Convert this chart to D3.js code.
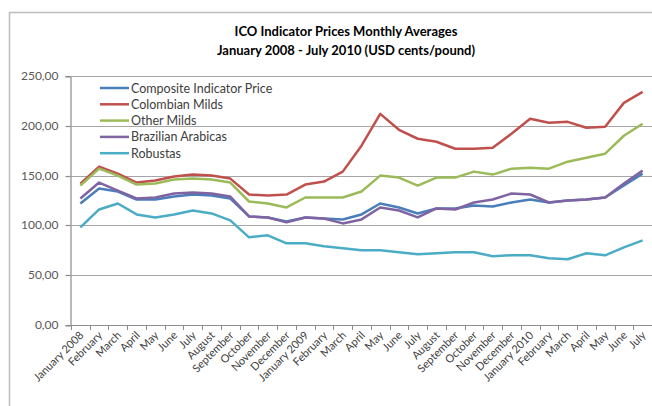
<!DOCTYPE html>
<html>
<head>
<meta charset="utf-8">
<script src="https://cdn.jsdelivr.net/npm/d3@7"></script>
<style>
  body { margin: 0; background: #fff; }
  svg { display: block; font-family: Lato, "Open Sans", sans-serif; }
</style>
</head>
<body>
<div id="chart"></div>
<script>
// Month labels, January 2008 - July 2010
const months = [
    "January 2008", "February", "March", "April", "May", "June", "July", "August",
    "September", "October", "November", "December",
    "January 2009", "February", "March", "April", "May", "June", "July", "August",
    "September", "October", "November", "December",
    "January 2010", "February", "March", "April", "May", "June", "July"
];

// Series values (USD cents/pound)
const composite = [122, 137, 134, 126, 126, 129, 131, 130, 127, 109, 108, 104, 108, 107,
    106, 111, 122, 118, 112, 117, 117, 120, 119, 123, 126, 123, 125, 126, 128, 140, 152];
const colombian = [142, 159, 152, 143, 145, 149, 151, 150, 147, 131, 130, 131, 141, 144,
    154, 180, 212, 196, 187, 184, 177, 177, 178, 192, 207, 203, 204, 198, 199, 223, 234];
const otherMilds = [140, 157, 150, 141, 142, 146, 147, 146, 143, 124, 122, 118, 128, 128,
    128, 134, 150, 148, 140, 148, 148, 154, 151, 157, 158, 157, 164, 168, 172, 190, 202];
const brazilian = [127, 143, 135, 127, 128, 132, 133, 132, 129, 109, 108, 103, 108, 107,
    102, 106, 118, 115, 108, 117, 116, 123, 126, 132, 131, 123, 125, 126, 128, 142, 155];
const robustas = [98, 116, 122, 111, 108, 111, 115, 112, 105, 88, 90, 82, 82, 79,
    77, 75, 75, 73, 71, 72, 73, 73, 69, 70, 70, 67, 66, 72, 70, 78, 85];

const yTicks = [0, 50, 100, 150, 200, 250];

const series = [
    { name: "Composite Indicator Price", values: composite, color: "#4a7ebb" },
    { name: "Colombian Milds", values: colombian, color: "#c0504d" },
    { name: "Other Milds", values: otherMilds, color: "#9bbb59" },
    { name: "Brazilian Arabicas", values: brazilian, color: "#8064a2" },
    { name: "Robustas", values: robustas, color: "#4bacc6" }
];

const width = 652;
const height = 406;

const svg = d3.select("#chart").append("svg")
    .attr("width", width)
    .attr("height", height);

// Outer chart frame (runs off the right and bottom edges)
svg.append("rect")
    .attr("x", 9.5).attr("y", 12.5)
    .attr("width", 700).attr("height", 450)
    .attr("fill", "none")
    .attr("stroke", "#bdbdbd")
    .attr("stroke-width", 1.5);

// Title
const title = svg.append("text")
    .attr("text-anchor", "middle")
    .style("font-size", "13px")
    .style("font-weight", "bold")
    .attr("fill", "#000");
title.append("tspan").attr("x", 346).attr("y", 36).text("ICO Indicator Prices Monthly Averages");
title.append("tspan").attr("x", 346).attr("y", 55).text("January 2008 - July 2010 (USD cents/pound)");

// Scales
const xScale = d3.scaleBand()
    .domain(d3.range(months.length))
    .range([71, 652])
    .padding(0);

const yScale = d3.scaleLinear()
    .domain([0, 250])
    .range([325, 76]);

// Gridlines
svg.append("g")
    .selectAll("line")
    .data(yTicks.filter(d => d > 0))
    .join("line")
    .attr("x1", 71).attr("x2", 652)
    .attr("y1", d => Math.round(yScale(d)) + 0.5)
    .attr("y2", d => Math.round(yScale(d)) + 0.5)
    .attr("stroke", "#a6a6a6")
    .attr("stroke-width", 1.2);

// Y axis
const yAxis = svg.append("g")
    .attr("transform", "translate(70.5, 0.5)")
    .call(d3.axisLeft(yScale)
        .tickValues(yTicks)
        .tickSize(5)
        .tickPadding(7)
        .tickFormat(d => d3.format(".2f")(d).replace(".", ",")));
yAxis.selectAll("path, line").attr("stroke", "#8c8c8c").attr("stroke-width", 1.2);
yAxis.selectAll("text").attr("fill", "#595959").style("font-size", "12px").style("font-family", "Lato, sans-serif");
yAxis.selectAll("line").attr("transform", null);
yAxis.selectAll(".tick").attr("transform", d => `translate(0, ${Math.round(yScale(d))})`);

// X axis: line and tick marks at category boundaries
const xg = svg.append("g");
xg.append("line")
    .attr("x1", 70).attr("x2", 652)
    .attr("y1", 325.5).attr("y2", 325.5)
    .attr("stroke", "#8c8c8c").attr("stroke-width", 1.2);
xg.selectAll(".xtick")
    .data(d3.range(months.length + 1))
    .join("line")
    .attr("class", "xtick")
    .attr("x1", i => Math.round(71 + i * xScale.bandwidth()) + 0.5)
    .attr("x2", i => Math.round(71 + i * xScale.bandwidth()) + 0.5)
    .attr("y1", 325).attr("y2", 330)
    .attr("stroke", "#8c8c8c").attr("stroke-width", 1);

// X labels, rotated
xg.selectAll(".xlabel")
    .data(months)
    .join("text")
    .attr("class", "xlabel")
    .attr("text-anchor", "end")
    .attr("fill", "#404040")
    .style("font-size", "11px")
    .attr("transform", (d, i) => `translate(${xScale(i) + xScale.bandwidth() / 2 + 4}, 336) rotate(-45)`)
    .text(d => d);

// Lines
const line = d3.line()
    .x((d, i) => xScale(i) + xScale.bandwidth() / 2)
    .y(d => yScale(d));

svg.append("g")
    .selectAll("path")
    .data(series)
    .join("path")
    .attr("d", d => line(d.values))
    .attr("fill", "none")
    .attr("stroke", d => d.color)
    .attr("stroke-width", 2.5)
    .attr("stroke-linejoin", "round");

// Legend
const legend = svg.append("g").attr("transform", "translate(100, 88)");
series.forEach((d, i) => {
    const g = legend.append("g").attr("transform", `translate(0, ${i * 16.3})`);
    g.append("line")
        .attr("x1", 0).attr("x2", 29)
        .attr("y1", 0).attr("y2", 0)
        .attr("stroke", d.color).attr("stroke-width", 2.5);
    g.append("text")
        .attr("x", 31).attr("y", 4.5)
        .attr("fill", "#404040")
        .style("font-size", "12.5px")
        .text(d.name);
});
</script>
</body>
</html>
